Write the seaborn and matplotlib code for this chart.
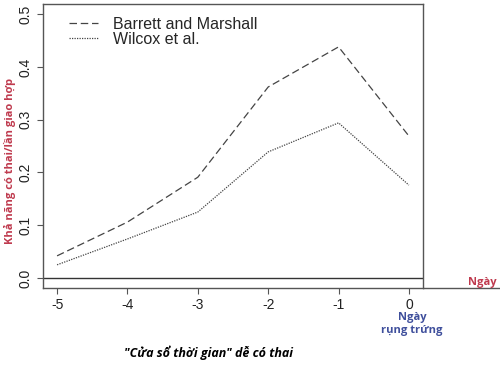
import pandas as pd
import matplotlib
matplotlib.use("Agg")
import matplotlib.pyplot as plt
from matplotlib.lines import Line2D
import seaborn as sns

# ---------------- data ----------------
DAYS     = [-5, -4, -3, -2, -1, 0]
BARRETT  = [0.042, 0.106, 0.191, 0.362, 0.438, 0.269]
WILCOX   = [0.025, 0.074, 0.125, 0.239, 0.294, 0.176]
SERIES   = ["Barrett and Marshall", "Wilcox et al."]
YTICKS   = [0.0, 0.1, 0.2, 0.3, 0.4, 0.5]
YLABEL   = "Khả năng có thai/lần giao hợp"
CAPTION  = "\"Cửa sổ thời gian\" dễ có thai"

# ---------------- style ----------------
RED   = "#bf3a4e"
BLUE  = "#3f4f9c"
GREY  = "#444444"
TXT   = ["Open Sans", "DejaVu Sans"]

df = pd.DataFrame({
    "day": DAYS * 2,
    "p": BARRETT + WILCOX,
    "src": [SERIES[0]] * len(DAYS) + [SERIES[1]] * len(DAYS),
})

sns.set_theme(style="white")
plt.rcParams["font.family"] = ["Liberation Sans", "DejaVu Sans"]

fig = plt.figure(figsize=(5, 3.77), dpi=100)
ax = fig.add_axes([0.086, 0.236, 0.76, 0.753])

sns.lineplot(data=df, x="day", y="p", style="src", style_order=SERIES,
             dashes={SERIES[0]: (6, 3), SERIES[1]: (1, 1)},
             color=GREY, linewidth=0.9, legend=False, ax=ax)
ax.axhline(0, color="#333333", linewidth=1.0)

ax.set_xlim(-5.2, 0.2)
ax.set_ylim(-0.019, 0.519)
ax.set_xticks(DAYS)
ax.set_xticklabels([str(d) for d in DAYS])
ax.set_yticks(YTICKS)
ax.set_yticklabels([f"{v:.1f}" for v in YTICKS])
ax.set_xlabel("")
ax.set_ylabel("")
ax.tick_params(axis="both", which="both", direction="out", length=4, width=0.8,
               color="#555555", labelsize=10, labelcolor="#222222", bottom=True, left=True)
ax.tick_params(axis="y", labelrotation=90)
for lab in ax.get_yticklabels():
    lab.set_va("center")
for sp in ax.spines.values():
    sp.set_color("#555555")
    sp.set_linewidth(1.0)

handles = [Line2D([], [], color=GREY, linewidth=0.9, dashes=(6, 3)),
           Line2D([], [], color=GREY, linewidth=0.9, dashes=(1, 1))]
ax.legend(handles, SERIES, loc="upper left", bbox_to_anchor=(0.068, 0.955),
          frameon=False, fontsize=11.5, handlelength=1.8, handletextpad=0.95,
          labelspacing=0.0, borderaxespad=0.0, borderpad=0.0)

# extended axis line and annotations
fig.add_artist(Line2D([0.846, 1.0], [0.236, 0.236], color="#555555", linewidth=1.0))
fig.text(10 / 500, 1 - 161 / 377, YLABEL, rotation=90, ha="center", va="center",
         color=RED, fontsize=8, fontweight="bold", family=TXT)
fig.text(497 / 500, 1 - 283 / 377, "Ngày", ha="right", va="center",
         color=RED, fontsize=8, fontweight="bold", family=TXT)
fig.text(412 / 500, 1 - 324 / 377, "Ngày\nrụng trứng", ha="center", va="center",
         color=BLUE, fontsize=8, fontweight="bold", family=TXT, linespacing=1.35)
fig.text(209 / 500, 1 - 353 / 377, CAPTION, ha="center", va="center",
         color="black", fontsize=9, fontweight="bold", fontstyle="italic", family=TXT)

fig.savefig("out.png", dpi=100)
